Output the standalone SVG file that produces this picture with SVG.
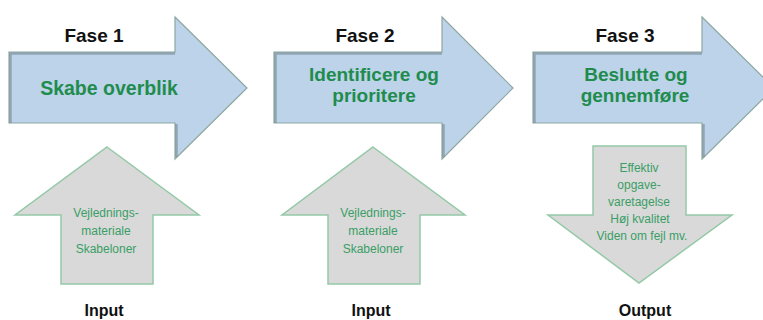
<svg xmlns="http://www.w3.org/2000/svg" width="763" height="320" viewBox="0 0 763 320">
<style>
.phase{fill:#bcd3ea;stroke:#8ea7a1;stroke-width:1.2}
.shade{fill:none;stroke:#6f7f86;stroke-width:2.5;stroke-opacity:0.55}
.io{fill:#d9d9d9;stroke:#93c9a6;stroke-width:1.5}
.fase{font-family:"Liberation Sans",Arial,sans-serif;font-weight:bold;font-size:19px;fill:#111;text-anchor:middle}
.title{font-family:"Liberation Sans",Arial,sans-serif;font-weight:bold;font-size:19.5px;fill:#1f8c4e;text-anchor:middle}
.title2{font-family:"Liberation Sans",Arial,sans-serif;font-weight:bold;font-size:19px;fill:#1f8c4e;text-anchor:middle}
.small{font-family:"Liberation Sans",Arial,sans-serif;font-size:12px;fill:#3a9e66;text-anchor:middle}
.label{font-family:"Liberation Sans",Arial,sans-serif;font-weight:bold;font-size:16px;fill:#111;text-anchor:middle}
</style>
<rect width="763" height="320" fill="#fff"/>
<g id="fase1">
<path class="phase" d="M9,52 H175 V17 L247,88 L175,159 V123 H9 Z"/>
<path class="shade" d="M10.5,123 V53.5 H175 M176.5,124 V157"/>
<text class="fase" x="94" y="42">Fase 1</text>
<text class="title" x="109" y="95">Skabe overblik</text>
</g>
<g id="fase2">
<path class="phase" d="M274,52 H442 V17 L513,88 L442,159 V123 H274 Z"/>
<path class="shade" d="M275.5,123 V53.5 H442 M443.5,124 V157"/>
<text class="fase" x="365" y="42">Fase 2</text>
<text class="title2" x="374" y="81">Identificere og</text>
<text class="title2" x="374" y="102">prioritere</text>
</g>
<g id="fase3">
<path class="phase" d="M533,52 H702 V17 L774,88 L702,159 V123 H533 Z"/>
<path class="shade" d="M534.5,123 V53.5 H702 M703.5,124 V157"/>
<text class="fase" x="625" y="42">Fase 3</text>
<text class="title2" x="636" y="81">Beslutte og</text>
<text class="title2" x="635" y="102">gennemføre</text>
</g>
<g id="input1">
<path class="io" d="M107,147 L199,215 H153 V284 H61 V215 H15 Z"/>
<text class="small" x="106" y="217">Vejlednings-</text>
<text class="small" x="106" y="235">materiale</text>
<text class="small" x="106" y="253">Skabeloner</text>
<text class="label" x="104" y="316">Input</text>
</g>
<g id="input2">
<path class="io" d="M373,147 L465,215 H420 V284 H328 V215 H282 Z"/>
<text class="small" x="373" y="217">Vejlednings-</text>
<text class="small" x="373" y="235">materiale</text>
<text class="small" x="373" y="253">Skabeloner</text>
<text class="label" x="371" y="316">Input</text>
</g>
<g id="output">
<path class="io" d="M593,146 H686 V215 H732 L639,283 L548,215 H593 Z"/>
<text class="small" x="639" y="172">Effektiv</text>
<text class="small" x="639" y="189">opgave-</text>
<text class="small" x="639" y="206">varetagelse</text>
<text class="small" x="640" y="223">Høj kvalitet</text>
<text class="small" x="642" y="240">Viden om fejl mv.</text>
<text class="label" x="645" y="316">Output</text>
</g>
<g id="connectors"></g>
</svg>
